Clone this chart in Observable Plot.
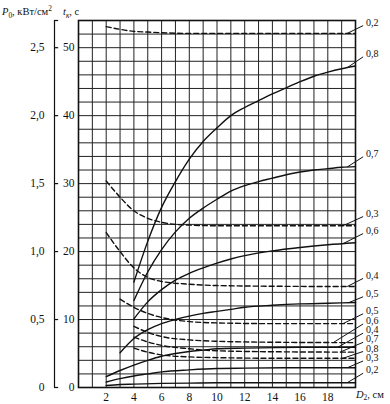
<!DOCTYPE html>
<html><head><meta charset="utf-8">
<script src="https://cdn.jsdelivr.net/npm/d3@7"></script>
<script src="https://cdn.jsdelivr.net/npm/@observablehq/plot@0.6"></script>
<style>body{margin:0;background:#fff} svg{font-family:"Liberation Serif",serif}</style>
</head><body><div id="chart"></div>
<script>
// ---- data: solid curves = t_к (s) vs D2 (cm) ----
const s02_D = [2,3,4,6,8,10,12,16,20];
const s02_t = [0.3,0.45,0.5,0.6,0.65,0.7,0.7,0.7,0.7];
const s03_D = [2,3,4,5,6,8,10,12,16,20];
const s03_t = [0.8,1.3,1.7,2.0,2.3,2.6,2.8,2.85,2.9,2.9];
const s04_D = [2,3,4,5,6,7,8,9,10,12,16,20];
const s04_t = [1.6,2.5,3.3,4.0,4.6,5.0,5.3,5.5,5.7,5.8,5.9,5.9];
const s05_D = [3,4,5,6,7,8,9,10,11,12,14,16,18,20];
const s05_t = [5.1,7.2,8.5,9.4,10.0,10.5,10.9,11.2,11.5,11.8,12.1,12.3,12.4,12.5];
const s06_D = [4,5,6,7,8,9,10,11,12,14,16,18,20];
const s06_t = [10.1,12.6,14.4,15.8,16.8,17.6,18.3,18.9,19.4,20.1,20.6,21.0,21.3];
const s07_D = [4,5,6,7,8,9,10,11,12,13,14,15,16,17,18,19,20];
const s07_t = [12.8,17.0,20.3,22.9,24.9,26.4,27.7,28.9,29.7,30.3,30.8,31.3,31.7,32.0,32.2,32.4,32.5];
const s08_D = [4,5,6,7,8,9,10,11,12,13,14,15,16,17,18,19,20];
const s08_t = [15.5,21.5,26.5,30.3,33.6,36.2,38.2,40.0,41.2,42.2,43.2,44.1,45.0,45.8,46.4,46.9,47.3];
// ---- data: dashed curves = P0 (kW/cm2) vs D2 (cm) ----
const d02_D = [2,3,4,5,6,8,10,14,20];
const d02_P = [2.655,2.635,2.62,2.615,2.61,2.605,2.605,2.605,2.605];
const d03_D = [2,3,4,5,6,7,8,10,14,20];
const d03_P = [1.52,1.40,1.30,1.245,1.215,1.20,1.195,1.19,1.19,1.19];
const d04_D = [2,3,4,5,6,8,10,14,20];
const d04_P = [1.14,1.00,0.88,0.81,0.78,0.76,0.75,0.745,0.7425];
const d05_D = [3,4,5,6,8,10,14,20];
const d05_P = [0.65,0.59,0.545,0.515,0.485,0.475,0.47,0.47];
const d06_D = [4,5,6,8,10,14,20];
const d06_P = [0.45,0.405,0.375,0.35,0.34,0.333,0.33];
const d07_D = [4,5,6,8,10,14,20];
const d07_P = [0.37,0.335,0.31,0.285,0.27,0.263,0.26];
const d08_D = [4,5,6,8,10,14,20];
const d08_P = [0.29,0.26,0.24,0.225,0.22,0.215,0.215];
// ---- ticks ----
const xTicks = [2,4,6,8,10,12,14,16,18];
const tTicks = [0,10,20,30,40,50];
const pTicks = [0,0.5,1.0,1.5,2.0,2.5];
// ---- right-hand labels (top to bottom) ----
const labelText = ["0,2","0,8","0,7","0,3","0,6","0,4","0,5","0,5","0,6","0,4","0,7","0,8","0,3","0,2"];
const labelCurve = ["d02","s08","s07","d03","s06","d04","s05","d05","d06","s04","d07","d08","s03","s02"];

const P2T = 20; // 2,5 kW/cm2 <-> 50 s on the shared vertical scale
const curves = {
  s02:[s02_D,s02_t,1], s03:[s03_D,s03_t,1], s04:[s04_D,s04_t,1], s05:[s05_D,s05_t,1],
  s06:[s06_D,s06_t,1], s07:[s07_D,s07_t,1], s08:[s08_D,s08_t,1],
  d02:[d02_D,d02_P,P2T], d03:[d03_D,d03_P,P2T], d04:[d04_D,d04_P,P2T], d05:[d05_D,d05_P,P2T],
  d06:[d06_D,d06_P,P2T], d07:[d07_D,d07_P,P2T], d08:[d08_D,d08_P,P2T]
};
const rows = [];
for (const [k,[Ds,vs,f]] of Object.entries(curves)) Ds.forEach((D,i)=>rows.push({key:k, D, t:vs[i]*f, dashed:k[0]==="d"}));
function curveAt(k, D){
  const [Ds,vs,f] = curves[k];
  for (let i=1;i<Ds.length;i++) if (D<=Ds[i]) { const a=(D-Ds[i-1])/(Ds[i]-Ds[i-1]); return (vs[i-1]+a*(vs[i]-vs[i-1]))*f; }
  return vs[vs.length-1]*f;
}
// layout of leader lines (start D on curve, label level in t units)
const leadStart = [19.4,19.4,19.4,19.1,19.1,19.4,19.5,19.1,18.4,18.7,18.9,19.1,19.4,19.4];
const labelLevel = [53.7,49.1,34.4,25.6,23.1,16.5,13.8,11.3,9.8,8.45,7.1,5.75,4.35,2.55];
const labels = labelText.map((txt,i)=>({txt, D0:leadStart[i], t0:curveAt(labelCurve[i], leadStart[i]), D1:20.55, t1:labelLevel[i]-0.45, tl:labelLevel[i]}));

const ink = "#111";
const chart = Plot.plot({
  width:390, height:404, marginLeft:78, marginRight:35, marginTop:20, marginBottom:17,
  style:{fontFamily:"Liberation Serif, serif", fontSize:"11.5px", background:"#fff", color:ink, overflow:"visible"},
  x:{domain:[0,20], axis:null},
  y:{domain:[0,54], axis:null},
  marks:[
    Plot.ruleX(d3.range(0,21), {stroke:"#222", strokeWidth:1}),
    Plot.ruleY(d3.range(0,55,2), {stroke:"#222", strokeWidth:1}),
    Plot.frame({stroke:ink, strokeWidth:1.6}),
    Plot.line(rows.filter(d=>!d.dashed), {x:"D", y:"t", z:"key", curve:"monotone-x", stroke:ink, strokeWidth:1.4}),
    Plot.line(rows.filter(d=>d.dashed), {x:"D", y:"t", z:"key", curve:"monotone-x", stroke:ink, strokeWidth:1.4, strokeDasharray:"5,3"}),
    Plot.link(labels, {x1:"D0", y1:"t0", x2:"D1", y2:"t1", stroke:ink, strokeWidth:1}),
    Plot.text(labels, {x:"D1", y:"tl", text:"txt", dx:3, textAnchor:"start", fontSize:10, fill:ink}),
    Plot.axisX(xTicks, {tickSize:0, tickPadding:5, label:null, fontSize:11.5}),
    Plot.axisY(tTicks, {tickSize:0, tickPadding:4, label:null, fontSize:11.5}),
    Plot.axisY(pTicks.map(p=>p*P2T), {tickSize:0, tickPadding:4, dx:-30, label:null, fontSize:11.5,
      tickFormat:d=>(d/P2T===0?"0":(d/P2T).toFixed(1).replace(".",","))}),
    Plot.ruleX([0], {y1:0, y2:54, dx:-24, stroke:ink, strokeWidth:1.2}),
    Plot.ruleY(pTicks.map(p=>p*P2T).concat([54]), {x1:0, x2:0.3, dx:-24, stroke:ink, strokeWidth:1.2})
  ]
});
document.getElementById("chart").appendChild(chart);

// headers
const svgSel = d3.select(chart);
const xs = chart.scale("x"), ys = chart.scale("y");
const topY = ys.apply(54), leftX = xs.apply(0);
function hdr(x, y, parts, fs){
  const t = svgSel.append("text").attr("x",x).attr("y",y).attr("font-size",fs).attr("fill",ink)
    .attr("font-family","Liberation Serif, serif").attr("text-anchor","start");
  parts.forEach(p=>{
    const s = t.append("tspan").text(p.s);
    if (p.i) s.attr("font-style","italic");
    if (p.sub) s.attr("font-size",fs*0.7).attr("dy",p.sub);
    if (p.sup) s.attr("font-size",fs*0.7).attr("dy",-4);
    if (p.back) s.attr("dy",p.back);
  });
}
hdr(leftX-76, topY-5, [{s:"P",i:1},{s:"0",sub:3},{s:", кВт/см",back:-3},{s:"2",sup:1}], 10.5);
hdr(leftX-15, topY-5, [{s:"t",i:1},{s:"к",sub:3,i:1},{s:", с",back:-3}], 10.5);
hdr(xs.apply(20)+1, ys.apply(0)+11, [{s:"D",i:1},{s:"2",sub:2},{s:", см",back:-2}], 10.5);
</script></body></html>
